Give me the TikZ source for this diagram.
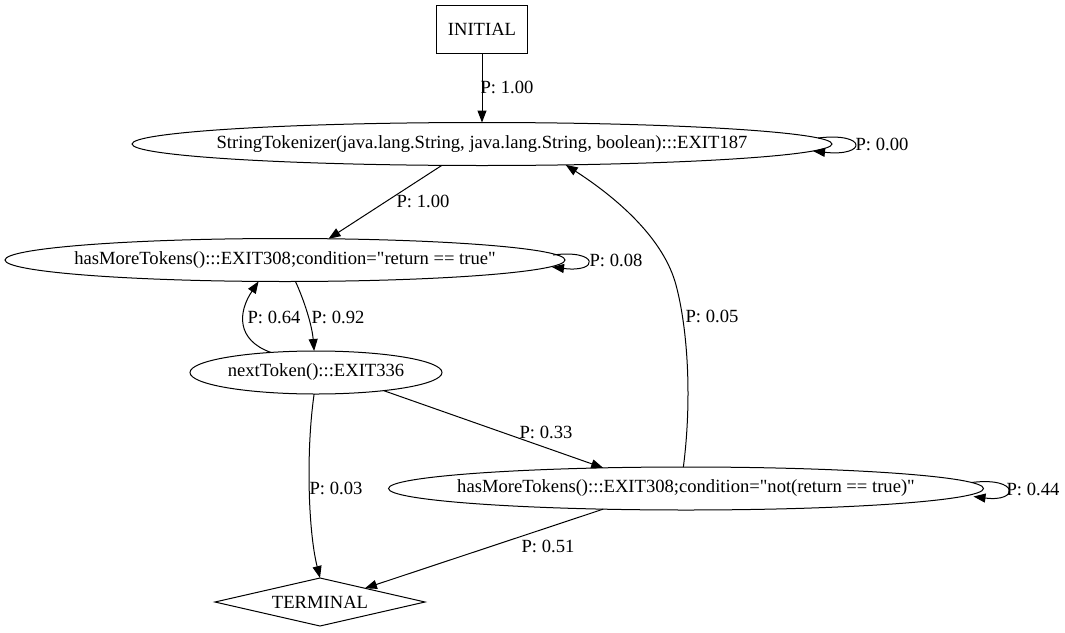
\documentclass[tikz,border=0pt]{standalone}
\usepackage{fontspec}
\setmainfont{Liberation Serif}[Ligatures=TeXOff]
\usetikzlibrary{shapes.geometric,arrows.meta,calc}
\begin{document}
\begin{tikzpicture}[x=1pt,y=-1pt,
  every node/.style={font=\fontsize{18.6}{21}\selectfont, inner sep=0pt, outer sep=0pt},
  ell/.style={draw, ellipse, line width=1pt, minimum height=43pt},
  edgearrow/.style={line width=1pt, -{Triangle[length=12pt,width=9pt]}},
  lbl/.style={}
]
\useasboundingbox (0,0) rectangle (1065,632);

% nodes
\node[draw, rectangle, line width=1pt, minimum width=91pt, minimum height=48pt] (init) at (482,29) {INITIAL};
\node[ell, minimum width=700pt, label={[name=stt]center:StringTokenizer(java.lang.String, java.lang.String, boolean):::EXIT187}] (st) at (482,144) {};
\node[ell, minimum width=560pt, label={[name=hm1t]center:hasMoreTokens():::EXIT308;condition="return == true"}] (hm1) at (285,260) {};
\node[ell, minimum width=252pt, label={[name=ntt]center:nextToken():::EXIT336}] (nt) at (316,372.5) {};
\node[ell, minimum width=595pt, label={[name=hm2t]center:hasMoreTokens():::EXIT308;condition="not(return == true)"}] (hm2) at (686,488.5) {};
\node[draw, diamond, line width=1pt, aspect=4.375, minimum width=210pt, minimum height=48pt, label={[name=termt]center:TERMINAL}] (term) at (320,602) {};

% edges
\draw[edgearrow] (init) -- (st);
\draw[edgearrow] ($(st.east)+(-14,-6)$) .. controls +(50,-6) and +(54,6) .. ($(st.east)+(-19,7)$);
\draw[edgearrow] (st.208) -- (hm1.26);
\draw[edgearrow] ($(hm1.east)+(-12,-5)$) .. controls +(46,-6) and +(48,6) .. ($(hm1.east)+(-13,7)$);
\draw[edgearrow] (hm1.-64) .. controls (304,300) and (312,325) .. (nt.95);
\draw[edgearrow] (nt.156) .. controls (236,340) and (238,312) .. (hm1.219);
\draw[edgearrow] (nt.-15) -- (hm2.166);
\draw[edgearrow] (nt.265) .. controls (306,450) and (308,530) .. (term.north);
\draw[edgearrow] (hm2.97) .. controls (692,400) and (688,330) .. (676,285) .. controls (664,240) and (620,200) .. (st.-14);
\draw[edgearrow] ($(hm2.east)+(-12,-6)$) .. controls +(48,-6) and +(46,6) .. ($(hm2.east)+(-10,8)$);
\draw[edgearrow] (hm2.194) -- (term.17);

% labels
\node[lbl] (l1) at (507,87) {P: 1.00};
\node[lbl] (l2) at (882,144) {P: 0.00};
\node[lbl] (l3) at (423,201) {P: 1.00};
\node[lbl] (l4) at (616,260) {P: 0.08};
\node[lbl] (l5) at (274,317) {P: 0.64};
\node[lbl] (l6) at (338,317) {P: 0.92};
\node[lbl] (l7) at (546,432) {P: 0.33};
\node[lbl] (l8) at (336,488) {P: 0.03};
\node[lbl] (l9) at (712,316) {P: 0.05};
\node[lbl] (l10) at (1033,489) {P: 0.44};
\node[lbl] (l11) at (548,546) {P: 0.51};
\end{tikzpicture}
\end{document}
